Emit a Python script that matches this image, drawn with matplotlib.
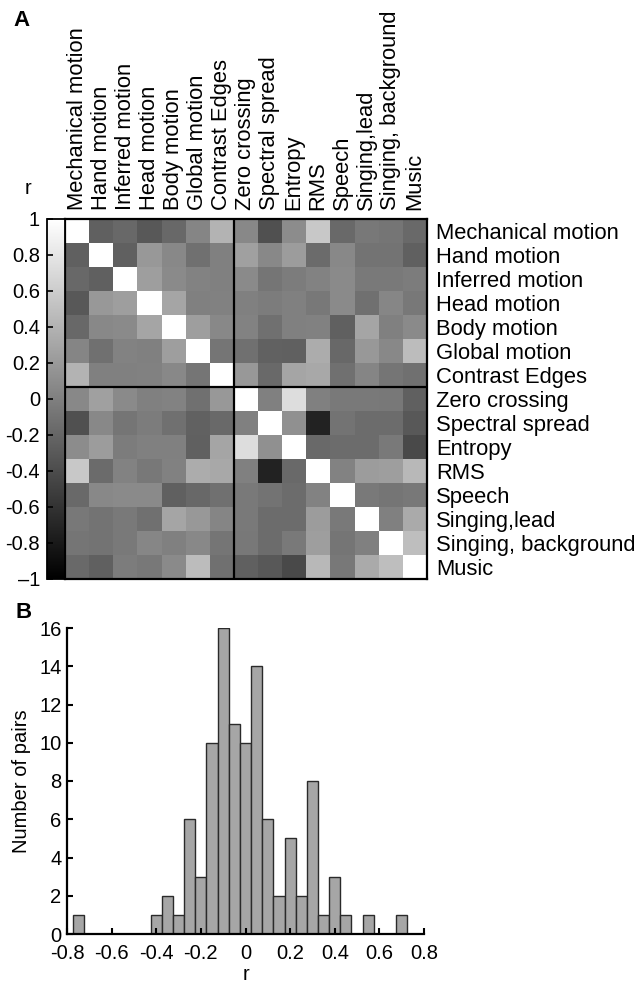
import numpy as np
import matplotlib
matplotlib.use("Agg")
import matplotlib.pyplot as plt

plt.rcParams['font.family'] = ['Liberation Sans', 'DejaVu Sans']
plt.rcParams['axes.unicode_minus'] = False

# ---------------- data ----------------
features = ["Mechanical motion", "Hand motion", "Inferred motion", "Head motion",
            "Body motion", "Global motion", "Contrast Edges", "Zero crossing",
            "Spectral spread", "Entropy", "RMS", "Speech", "Singing,lead",
            "Singing, background", "Music"]

# upper triangle of correlation matrix (row i, columns i+1 .. 14)
upper_rows = [
    [-0.25, -0.18, -0.31, -0.18, 0.04, 0.40, 0.07, -0.37, 0.10, 0.57, -0.17, -0.06, -0.08, -0.17],
    [-0.25, 0.19, 0.07, -0.12, 0.00, 0.25, 0.07, 0.22, -0.16, 0.07, -0.10, -0.10, -0.25],
    [0.24, 0.08, 0.02, 0.00, 0.08, -0.08, -0.03, 0.02, 0.08, -0.05, -0.05, -0.03],
    [0.29, 0.00, 0.01, 0.00, -0.03, 0.00, -0.06, 0.08, -0.12, 0.05, -0.06],
    [0.24, 0.07, 0.02, -0.12, 0.00, 0.01, -0.25, 0.29, 0.00, 0.08],
    [-0.08, -0.12, -0.23, -0.25, 0.35, -0.18, 0.19, 0.07, 0.47],
    [0.19, -0.17, 0.29, 0.32, -0.12, 0.04, -0.08, -0.12],
    [0.00, 0.73, 0.00, -0.05, -0.05, -0.06, -0.25],
    [0.13, -0.73, -0.10, -0.15, -0.15, -0.31],
    [-0.17, -0.15, -0.15, -0.04, -0.42],
    [0.02, 0.22, 0.24, 0.44],
    [-0.04, -0.08, -0.06],
    [0.00, 0.33],
    [0.49],
]

cbar_ticks = [-1, -0.8, -0.6, -0.4, -0.2, 0, 0.2, 0.4, 0.6, 0.8, 1]
cbar_ticklabels = ["\u20131", "-0.8", "-0.6", "-0.4", "-0.2", "0", "0.2", "0.4", "0.6", "0.8", "1"]

hist_centers = [-0.75, -0.40, -0.35, -0.30, -0.25, -0.20, -0.15, -0.10, -0.05, 0.00,
                0.05, 0.10, 0.15, 0.20, 0.25, 0.30, 0.35, 0.40, 0.45, 0.55, 0.70]
hist_counts = [1, 1, 2, 1, 6, 3, 10, 16, 11, 10, 14, 6, 2, 5, 2, 8, 1, 3, 1, 1, 1]
hist_xticks = [-0.8, -0.6, -0.4, -0.2, 0, 0.2, 0.4, 0.6, 0.8]
hist_xticklabels = ["-0.8", "-0.6", "-0.4", "-0.2", "0", "0.2", "0.4", "0.6", "0.8"]
hist_yticks = [0, 2, 4, 6, 8, 10, 12, 14, 16]

# build symmetric matrix
n = len(features)
corr = np.eye(n)
for i, row in enumerate(upper_rows):
    for k, v in enumerate(row):
        j = i + 1 + k
        corr[i, j] = v
        corr[j, i] = v

# ---------------- figure ----------------
W, H = 641, 986
fig = plt.figure(figsize=(W / 100, H / 100), dpi=100)

def ax_rect(x0, y0, x1, y1):
    return [x0 / W, 1 - y1 / H, (x1 - x0) / W, (y1 - y0) / H]

ax_hm = fig.add_axes(ax_rect(65, 219, 426.5, 579))
cax = fig.add_axes(ax_rect(47, 219, 65, 579))
ax_h = fig.add_axes(ax_rect(67, 628, 424, 934))

LAB = 15.8
TICK = 14.5

im = ax_hm.imshow(corr, cmap='gray', vmin=-1, vmax=1, interpolation='nearest', aspect='auto')
ax_hm.axhline(6.5, color='black', lw=1.6)
ax_hm.axvline(6.5, color='black', lw=1.6)
ax_hm.set_xticks(range(n))
ax_hm.set_yticks(range(n))
ax_hm.set_xticklabels(features, rotation=90, fontsize=LAB)
ax_hm.set_yticklabels(features, fontsize=LAB)
ax_hm.xaxis.tick_top()
ax_hm.yaxis.tick_right()
ax_hm.tick_params(axis='x', length=0, pad=6.5)
ax_hm.tick_params(axis='y', length=0, pad=7)
for s in ax_hm.spines.values():
    s.set_linewidth(1.6)

cb = fig.colorbar(im, cax=cax)
cb.outline.set_linewidth(1.3)
cax.yaxis.set_ticks_position('left')
cax.yaxis.set_label_position('left')
cb.set_ticks(cbar_ticks)
cb.set_ticklabels(cbar_ticklabels)
cax.tick_params(axis='y', direction='in', length=4, width=1.2, labelsize=TICK, pad=5)
fig.text(28 / W, 1 - 188 / H, "r", fontsize=TICK, ha='center', va='center')

fig.text(22 / W, 1 - 20 / H, "A", fontsize=16, fontweight='bold', ha='center', va='center')
fig.text(24 / W, 1 - 612 / H, "B", fontsize=16, fontweight='bold', ha='center', va='center')

# histogram
ax_h.bar(hist_centers, hist_counts, width=0.05, color='#a6a6a6', edgecolor='#2a2a2a', linewidth=1.0)
ax_h.set_xlim(-0.8, 0.8)
ax_h.set_ylim(0, 16)
ax_h.set_xticks(hist_xticks)
ax_h.set_xticklabels(hist_xticklabels)
ax_h.set_yticks(hist_yticks)
ax_h.spines['top'].set_visible(False)
ax_h.spines['right'].set_visible(False)
for s in ('left', 'bottom'):
    ax_h.spines[s].set_linewidth(1.6)
ax_h.tick_params(direction='in', length=4, width=1.5, labelsize=TICK)
ax_h.tick_params(axis='x', pad=7)
ax_h.tick_params(axis='y', pad=4)
ax_h.set_xlabel("r", fontsize=TICK, labelpad=2)
ax_h.set_ylabel("Number of pairs", fontsize=TICK, labelpad=6)

fig.savefig("out.png", dpi=100)
